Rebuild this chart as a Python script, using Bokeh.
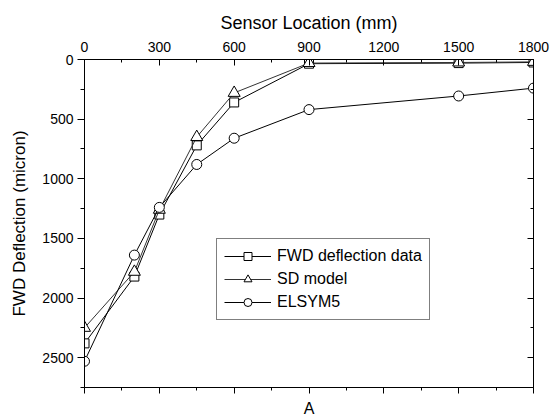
from bokeh.plotting import figure
from bokeh.models import (Range1d, LinearAxis, SingleIntervalTicker, Legend, LegendItem,
                          CustomJSTickFormatter)
from bokeh.embed import file_html
from bokeh.resources import INLINE

# ---- data ----
sensor_mm = [0, 200, 300, 450, 600, 900, 1500, 1800]
fwd_data = [2380, 1820, 1300, 720, 360, 35, 30, 25]
sd_model = [2250, 1780, 1260, 650, 280, 30, 25, 20]
elsym5 = [2530, 1640, 1240, 880, 660, 420, 306, 240]

x_title = "Sensor Location (mm)"
y_title = "FWD Deflection (micron)"
bottom_title = "A"
series_names = ["FWD deflection data", "SD model", "ELSYM5"]

FONT = "Liberation Sans"

p = figure(width=552, height=419, output_backend="svg", toolbar_location=None,
           x_axis_location="above",
           x_range=Range1d(0, 1800), y_range=Range1d(2750, 0),
           min_border_left=84, min_border_right=19, min_border_top=59, min_border_bottom=29)
p.outline_line_color = None
p.xgrid.visible = False
p.ygrid.visible = False
p.background_fill_color = "white"
p.border_fill_color = "white"

xt = SingleIntervalTicker(interval=300, num_minor_ticks=2)
yt = SingleIntervalTicker(interval=500, num_minor_ticks=2)

# top axis (main x)
ax_top = p.xaxis[0]
ax_top.ticker = xt
ax_top.axis_label = x_title
ax_top.axis_label_text_font = FONT
ax_top.axis_label_text_font_size = "18px"
ax_top.axis_label_text_font_style = "normal"
ax_top.axis_label_standoff = 6
ax_top.major_label_text_font = FONT
ax_top.major_label_text_font_size = "14px"
ax_top.major_label_standoff = 8
ax_top.major_tick_in = 6
ax_top.major_tick_out = 0
ax_top.minor_tick_in = 3
ax_top.minor_tick_out = 0

# left axis (main y)
ax_left = p.yaxis[0]
ax_left.ticker = yt
ax_left.axis_label = y_title
ax_left.axis_label_text_font = FONT
ax_left.axis_label_text_font_size = "17px"
ax_left.axis_label_text_font_style = "normal"
ax_left.axis_label_standoff = 10
ax_left.major_label_text_font = FONT
ax_left.major_label_text_font_size = "14px"
ax_left.major_label_standoff = 4
ax_left.major_tick_in = 0
ax_left.major_tick_out = 7
ax_left.minor_tick_in = 0
ax_left.minor_tick_out = 4

blank = CustomJSTickFormatter(code="return '';")

# bottom axis (ticks only, title "A")
ax_bottom = LinearAxis(ticker=SingleIntervalTicker(interval=300, num_minor_ticks=2),
                       formatter=blank)
ax_bottom.axis_label = bottom_title
ax_bottom.axis_label_text_font = FONT
ax_bottom.axis_label_text_font_size = "16px"
ax_bottom.axis_label_text_font_style = "normal"
ax_bottom.axis_label_standoff = 6
ax_bottom.major_label_text_font_size = "1px"
ax_bottom.major_label_standoff = 0
ax_bottom.major_tick_in = 0
ax_bottom.major_tick_out = 6
ax_bottom.minor_tick_in = 0
ax_bottom.minor_tick_out = 3
p.add_layout(ax_bottom, "below")

# right axis (ticks only)
ax_right = LinearAxis(ticker=SingleIntervalTicker(interval=500, num_minor_ticks=2),
                      formatter=blank)
ax_right.major_label_text_font_size = "1px"
ax_right.major_label_standoff = 0
ax_right.major_tick_in = 6
ax_right.major_tick_out = 0
ax_right.minor_tick_in = 3
ax_right.minor_tick_out = 0
p.add_layout(ax_right, "right")

for ax in (ax_top, ax_left, ax_bottom, ax_right):
    ax.axis_line_color = "black"
    ax.major_tick_line_color = "black"
    ax.minor_tick_line_color = "black"
    ax.major_label_text_color = "black"
    ax.axis_label_text_color = "black"

# series
l1 = p.line(sensor_mm, fwd_data, line_color="black", line_width=1)
m1 = p.scatter(sensor_mm, fwd_data, marker="square", size=9, fill_color="white", line_color="black")
l2 = p.line(sensor_mm, sd_model, line_color="#333333", line_width=1)
m2 = p.scatter(sensor_mm, sd_model, marker="triangle", size=12, fill_color="white", line_color="black")
l3 = p.line(sensor_mm, elsym5, line_color="black", line_width=1)
m3 = p.scatter(sensor_mm, elsym5, marker="circle", size=10, fill_color="white", line_color="black")

legend = Legend(items=[
    LegendItem(label=series_names[0], renderers=[l1, m1]),
    LegendItem(label=series_names[1], renderers=[l2, m2]),
    LegendItem(label=series_names[2], renderers=[l3, m3]),
], location=(132, 67))
legend.label_text_font = FONT
legend.label_text_font_size = "16px"
legend.label_text_color = "black"
legend.label_standoff = 6
legend.glyph_width = 47
legend.glyph_height = 20
legend.label_height = 20
legend.spacing = 3
legend.padding = 7
legend.margin = 0
legend.border_line_color = "black"
legend.border_line_width = 1
legend.background_fill_color = "white"
legend.background_fill_alpha = 1.0
p.add_layout(legend, "center")

open("out.html", "w").write(file_html(p, INLINE))
